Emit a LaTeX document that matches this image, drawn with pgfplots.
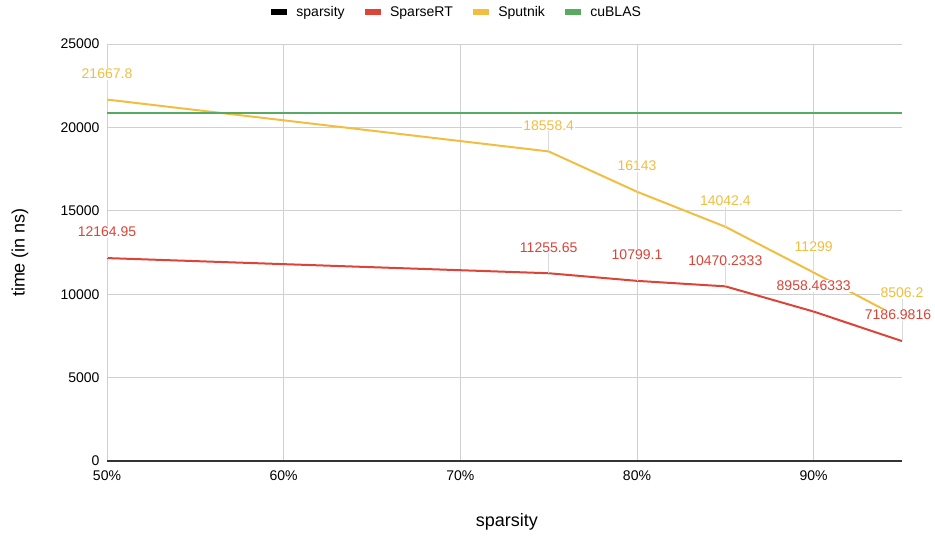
\documentclass[border=0pt]{standalone}
\usepackage{pgfplots}
\pgfplotsset{compat=1.18}
\usepackage{pgfplotstable}
\usepackage{fontspec}
\setmainfont{Liberation Sans}

\definecolor{sparsert}{HTML}{DB4437}
\definecolor{sputnik}{HTML}{F1BE42}
\definecolor{cublas}{HTML}{57AA5F}
\definecolor{gridgray}{HTML}{D0D0D0}
\definecolor{leader}{HTML}{DADADA}
\definecolor{axisline}{HTML}{333333}

% sparsity (%), time (ns), printed label, horizontal label nudge (pt)
\pgfplotstableread{
x  y           lab          dx
50 12164.95    12164.95     0
75 11255.65    11255.65     0
80 10799.1     10799.1      0
85 10470.2333  10470.2333   0
90 8958.46333  8958.46333   0
95 7186.9816   7186.9816    -4
}\sparsert

\pgfplotstableread{
x  y        lab      dx
50 21667.8  21667.8  0
75 18558.4  18558.4  0
80 16143    16143    0
85 14042.4  14042.4  0
90 11299    11299    0
95 8506.2   8506.2   0
}\sputnik

\pgfplotstableread{
x  y
50 20860
75 20860
80 20860
85 20860
90 20860
95 20860
}\cublas

\pgfplotsset{
  leaders/.style={
    draw=none, forget plot,
    nodes near coords={\textcolor{leader}{\rule{0.8pt}{20pt}}},
    nodes near coords align={anchor=south},
    every node near coord/.append style={anchor=south, inner sep=0pt},
  },
  datalabels/.style={
    draw=none, forget plot,
    point meta=explicit symbolic,
    visualization depends on={\thisrow{dx}\as\labdx},
    nodes near coords={\pgfplotspointmeta},
    nodes near coords align={anchor=center},
    every node near coord/.append style={
      anchor=center, xshift=\labdx pt, yshift=26pt,
      fill=white, inner sep=1pt, text=#1,
      font=\fontsize{14}{16}\selectfont},
  },
  legbar/.style={legend image code/.code={\fill[#1] (0pt,-2.5pt) rectangle (15pt,2.5pt);}},
}

\begin{document}
\begin{tikzpicture}
\begin{axis}[
  scale only axis,
  width=795pt, height=417pt,
  xmin=50, xmax=95, ymin=0, ymax=25000,
  xtick={50,60,70,80,90},
  xticklabels={50\%,60\%,70\%,80\%,90\%},
  ytick={0,5000,10000,15000,20000,25000},
  /pgf/number format/assume math mode=true,
  scaled y ticks=false,
  yticklabel={\pgfmathprintnumber[fixed,1000 sep={}]{\tick}},
  ticklabel style={font=\fontsize{14}{16}\selectfont},
  yticklabel style={anchor=east, xshift=-4pt},
  xticklabel style={anchor=north, yshift=-6pt},
  major tick length=0pt,
  grid=major,
  grid style={gridgray, line width=0.8pt},
  separate axis lines,
  axis x line*=bottom, axis y line*=left,
  y axis line style={draw=none},
  x axis line style={axisline, line width=1.3pt, -},
  clip=false,
  xlabel={sparsity},
  ylabel={time (in ns)},
  every axis x label/.style={at={(axis description cs:0.503,-0.1463)}, anchor=center,
    font=\fontsize{18}{20}\selectfont},
  every axis y label/.style={at={(axis description cs:-0.1094,0.5)}, anchor=center, rotate=90,
    font=\fontsize{18}{20}\selectfont},
  legend columns=4,
  legend style={draw=none, fill=none, at={(axis description cs:0.439,1.077)}, anchor=center,
    font=\fontsize{14}{16}\selectfont,
    nodes={inner sep=0pt},
    /tikz/every odd column/.append style={column sep=10pt},
    /tikz/every even column/.append style={column sep=20pt}},
]
% thin leader lines from each point to its label
\addplot[leaders] table[x=x,y=y]{\sparsert};
\addplot[leaders] table[x=x,y=y]{\sputnik};

% series
\addplot[sparsert, line width=2pt, line join=round, forget plot] table[x=x,y=y]{\sparsert};
\addplot[sputnik, line width=2pt, line join=round, forget plot] table[x=x,y=y]{\sputnik};
\addplot[cublas, line width=2.5pt, forget plot] table[x=x,y=y]{\cublas};

% value labels
\addplot[datalabels=sparsert] table[x=x,y=y,meta=lab]{\sparsert};
\addplot[datalabels=sputnik] table[x=x,y=y,meta=lab]{\sputnik};

% legend
\addlegendimage{legbar=black}\addlegendentry{sparsity}
\addlegendimage{legbar=sparsert}\addlegendentry{SparseRT}
\addlegendimage{legbar=sputnik}\addlegendentry{Sputnik}
\addlegendimage{legbar=cublas}\addlegendentry{cuBLAS}

\coordinate (bbtl) at (axis description cs:-0.1346,1.1055);
\coordinate (bbbr) at (axis description cs:1.0415,-0.1871);
\end{axis}
\pgfresetboundingbox
\useasboundingbox (bbtl) rectangle (bbbr);
\end{tikzpicture}
\end{document}
